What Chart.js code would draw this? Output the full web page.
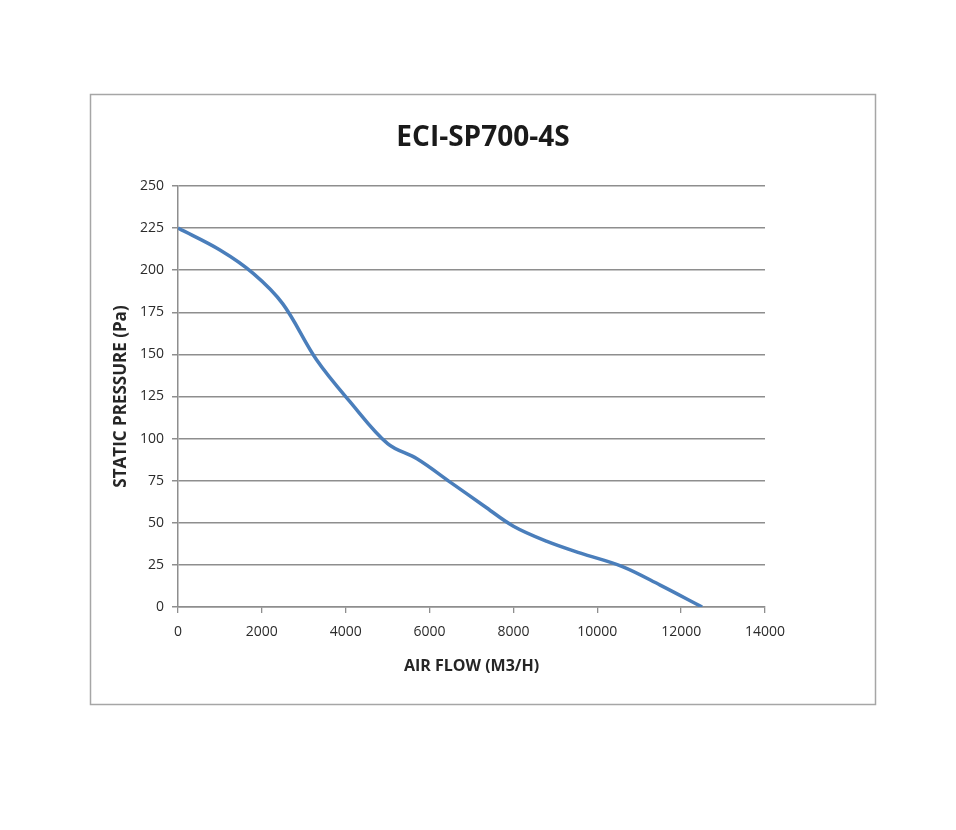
<!DOCTYPE html>
<html>
<head>
<meta charset="utf-8">
<script src="https://cdn.jsdelivr.net/npm/chart.js@4/dist/chart.umd.min.js"></script>
<style>
  html, body { margin: 0; padding: 0; background: #ffffff; }
  #wrap { position: absolute; left: 0; top: 0; width: 956px; height: 830px; }
</style>
</head>
<body>
<div id="wrap"><canvas id="c" width="956" height="830"></canvas></div>
<script>
const chartTitle = "ECI-SP700-4S";
const xAxisTitle = "AIR FLOW (M3/H)";
const yAxisTitle = "STATIC PRESSURE (Pa)";
const airFlow = [0, 1000, 1800, 2500, 3300, 4100, 5000, 5700, 6500, 7300, 8000, 8800, 9600, 10600, 11500, 12500];
const staticPressure = [225, 212, 198, 180, 147, 122, 97, 88, 74, 60, 48, 39, 32, 24, 13, 0];
const xTicks = { min: 0, max: 14000, step: 2000 };
const yTicks = { min: 0, max: 250, step: 25 };

const points = airFlow.map((x, i) => ({ x: x, y: staticPressure[i] }));

const frameAndTitle = {
  id: 'frameAndTitle',
  beforeDraw(chart) {
    const ctx = chart.ctx;
    ctx.save();
    ctx.fillStyle = '#ffffff';
    ctx.fillRect(0, 0, chart.width, chart.height);
    ctx.strokeStyle = '#a6a6a6';
    ctx.lineWidth = 1.5;
    ctx.strokeRect(90.5, 94.5, 785, 610);
    ctx.restore();
  },
  afterDraw(chart) {
    const ctx = chart.ctx;
    ctx.save();
    ctx.fillStyle = '#1a1a1a';
    ctx.font = 'bold 28px "Open Sans"';
    ctx.textAlign = 'center';
    ctx.textBaseline = 'middle';
    ctx.fillText(chartTitle, 483, 138);
    ctx.restore();
  }
};

new Chart(document.getElementById('c'), {
  type: 'line',
  data: {
    datasets: [{
      data: points,
      borderColor: '#4a7ebb',
      borderWidth: 3.5,
      pointRadius: 0,
      tension: 0.35,
      fill: false
    }]
  },
  options: {
    responsive: false,
    animation: false,
    layout: { padding: { left: 90, right: 191, top: 186, bottom: 100 } },
    plugins: { legend: { display: false }, tooltip: { enabled: false }, title: { display: false } },
    scales: {
      x: {
        type: 'linear',
        min: xTicks.min, max: xTicks.max,
        afterFit(s) { s.height = 123; },
        ticks: { stepSize: xTicks.step, color: '#2b2b2b', font: { family: 'Open Sans', size: 14 }, padding: 11, maxRotation: 0,
                 callback: (v) => String(v) },
        grid: { drawOnChartArea: false, drawTicks: true, tickLength: 6, color: '#8e8e8e', lineWidth: 1.3 },
        border: { display: true, color: '#8e8e8e', width: 1.5 },
        title: { display: true, text: xAxisTitle, color: '#262626', font: { family: 'Open Sans', size: 16, weight: 'bold' }, padding: { top: 0, bottom: 54 } }
      },
      y: {
        type: 'linear',
        min: yTicks.min, max: yTicks.max,
        afterFit(s) { s.width = 88; },
        ticks: { stepSize: yTicks.step, color: '#2b2b2b', font: { family: 'Open Sans', size: 14 }, padding: 8,
                 callback: (v) => String(v) },
        grid: { drawOnChartArea: true, drawTicks: true, tickLength: 6, color: '#8e8e8e', lineWidth: 1.5 },
        border: { display: true, color: '#8e8e8e', width: 1.5 },
        title: { display: true, text: yAxisTitle, color: '#262626', font: { family: 'Open Sans', size: 17, weight: 'bold' }, padding: { top: 21, bottom: 0 } }
      }
    }
  },
  plugins: [frameAndTitle]
});
</script>
</body>
</html>
